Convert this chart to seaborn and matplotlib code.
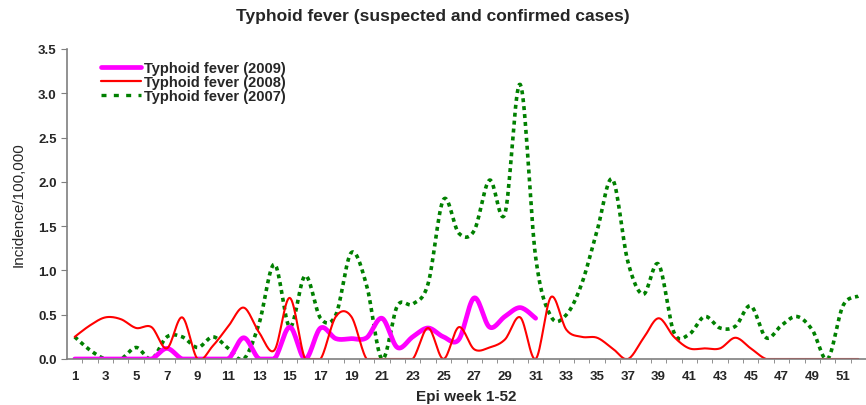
import numpy as np
import pandas as pd
import seaborn as sns
import matplotlib.pyplot as plt
from matplotlib.lines import Line2D

weeks = list(range(1, 53))
week_labels = [str(w) for w in range(1, 53, 2)]

fever_2009 = [0, 0, 0, 0, 0, 0, 0.12, 0, 0, 0, 0, 0.24, 0, 0, 0.36, 0,
              0.35, 0.23, 0.23, 0.24, 0.46, 0.13, 0.25, 0.35, 0.25, 0.22,
              0.69, 0.36, 0.48, 0.58, 0.46]
fever_2008 = [0.25, 0.38, 0.47, 0.45, 0.35, 0.36, 0.12, 0.47, 0.0, 0.15,
              0.37, 0.58, 0.3, 0.1, 0.69, 0.0, 0.0, 0.48, 0.48, 0.0,
              0.0, 0.0, 0.0, 0.35, 0.0, 0.36, 0.11, 0.13, 0.22, 0.47,
              0.0, 0.7, 0.33, 0.25, 0.24, 0.12, 0.0, 0.23, 0.46, 0.25,
              0.12, 0.12, 0.12, 0.24, 0.12, 0.0, 0, 0, 0, 0, 0, 0]
fever_2007 = [0.25, 0.1, 0.0, 0.0, 0.13, 0.0, 0.25, 0.25, 0.13, 0.25,
              0.12, 0.0, 0.4, 1.07, 0.36, 0.94, 0.46, 0.5, 1.2, 0.83,
              0.0, 0.6, 0.62, 0.85, 1.8, 1.42, 1.45, 2.02, 1.64, 3.1,
              1.15, 0.48, 0.5, 0.85, 1.45, 2.03, 1.1, 0.73, 1.07, 0.3,
              0.28, 0.48, 0.35, 0.37, 0.6, 0.24, 0.38, 0.48, 0.33, 0.0,
              0.6, 0.71]


def smooth(x, y, n=16):
    # excel-style smoothed line (bezier through the points)
    p = np.column_stack([x, y]).astype(float)
    p = np.vstack([p[:1], p, p[-1:]])
    t = np.linspace(0, 1, n, endpoint=False)[:, None]
    out = []
    for i in range(1, len(p) - 2):
        p0, p1, p2, p3 = p[i - 1], p[i], p[i + 1], p[i + 2]
        c1 = p1 + (p2 - p0) / 6
        c2 = p2 - (p3 - p1) / 6
        out.append((1 - t) ** 3 * p1 + 3 * (1 - t) ** 2 * t * c1
                   + 3 * (1 - t) * t ** 2 * c2 + t ** 3 * p2)
    out.append(p[-2:-1])
    out = np.vstack(out)
    return out[:, 0], np.clip(out[:, 1], 0, None)


sns.set_style("white")
plt.rcParams["font.family"] = ["Liberation Sans", "DejaVu Sans"]

fig = plt.figure(figsize=(8.66, 4.06), dpi=100)
ax = fig.add_axes([67 / 866, 1 - 360 / 406, 799 / 866, 310 / 406])

series = [("Typhoid fever (2007)", fever_2007, "#008000", 2.6, (1.1, 1.1)),
          ("Typhoid fever (2009)", fever_2009, "#FF00FF", 3.4, None),
          ("Typhoid fever (2008)", fever_2008, "#FF0000", 1.5, None)]

for name, vals, col, lw, dash in series:
    sx, sy = smooth(weeks[:len(vals)], vals)
    df = pd.DataFrame({"week": sx, "incidence": sy})
    sns.lineplot(data=df, x="week", y="incidence", ax=ax, color=col,
                 linewidth=lw, sort=False, estimator=None)
    if dash:
        ax.lines[-1].set_dashes(dash)

ax.set_xlim(0.5, 52.5)
ax.set_ylim(0, 3.5)
ax.set_xticks(range(1, 53, 2))
ax.set_xticklabels(week_labels, fontsize=9.5, fontweight="bold")
ax.set_xticks(np.arange(1.5, 53, 1), minor=True)
ax.tick_params(axis="x", which="major", length=0, pad=8)
ax.tick_params(axis="x", which="minor", length=3, direction="out",
               color="#7f7f7f", bottom=True)
ax.set_yticks(np.arange(0, 3.51, 0.5))
ax.set_yticklabels([f"{v:.1f}" for v in np.arange(0, 3.51, 0.5)],
                   fontsize=9.5, fontweight="bold")
ax.tick_params(axis="y", length=4, direction="out", color="#7f7f7f", left=True)

for s in ["top", "right"]:
    ax.spines[s].set_visible(False)
for s in ["left", "bottom"]:
    ax.spines[s].set_color("#7f7f7f")
    ax.spines[s].set_linewidth(1.2)

ax.set_xlabel("Epi week 1-52", fontsize=11, fontweight="bold", labelpad=5)
ax.set_ylabel("Incidence/100,000", fontsize=11, labelpad=9)

fig.text(0.5, 1 - 16 / 406, "Typhoid fever (suspected and confirmed cases)",
         ha="center", va="center", fontsize=12.5, fontweight="bold")

handles = [Line2D([], [], color="#FF00FF", linewidth=3.4),
           Line2D([], [], color="#FF0000", linewidth=1.6),
           Line2D([], [], color="#008000", linewidth=2.4, dashes=(1.5, 2.2))]
labels = ["Typhoid fever (2009)", "Typhoid fever (2008)", "Typhoid fever (2007)"]
ax.legend(handles, labels, loc="upper left", bbox_to_anchor=(0.033, 0.985),
          frameon=False, borderpad=0, handlelength=2.8, handletextpad=0.2,
          labelspacing=0.0, prop={"weight": "bold", "size": 10.5})

fig.savefig("out.png", dpi=100)
